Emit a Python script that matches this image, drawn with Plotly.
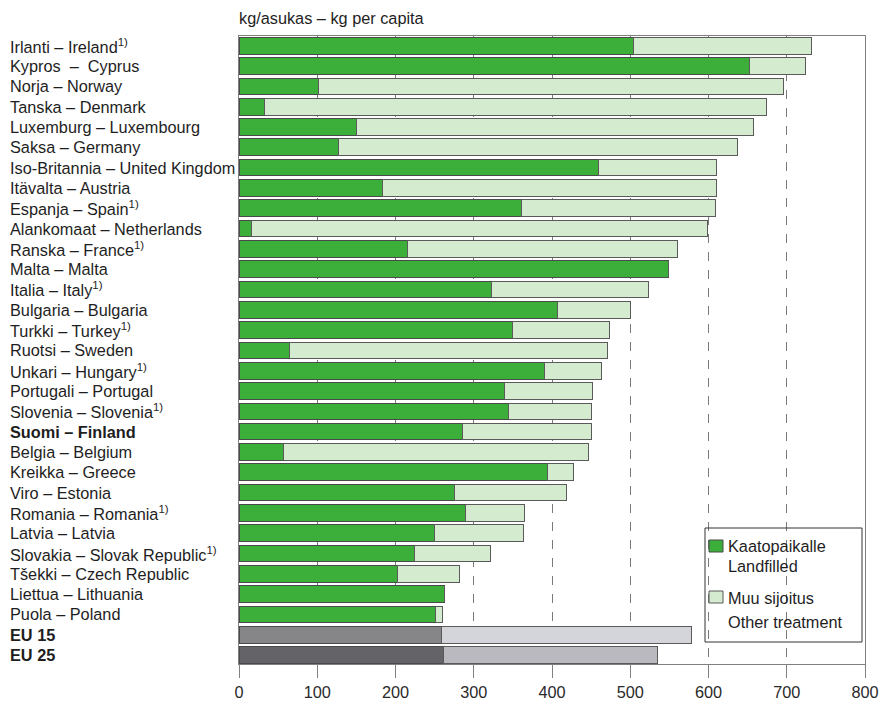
import plotly.graph_objects as go

# ---- data ----
labels = [
    "Irlanti – Ireland<sup>1)</sup>",
    "Kypros\u00a0 –\u00a0 Cyprus",
    "Norja – Norway",
    "Tanska – Denmark",
    "Luxemburg – Luxembourg",
    "Saksa – Germany",
    "Iso-Britannia – United Kingdom",
    "Itävalta – Austria",
    "Espanja – Spain<sup>1)</sup>",
    "Alankomaat – Netherlands",
    "Ranska – France<sup>1)</sup>",
    "Malta – Malta",
    "Italia – Italy<sup>1)</sup>",
    "Bulgaria – Bulgaria",
    "Turkki – Turkey<sup>1)</sup>",
    "Ruotsi – Sweden",
    "Unkari – Hungary<sup>1)</sup>",
    "Portugali – Portugal",
    "Slovenia – Slovenia<sup>1)</sup>",
    "<b>Suomi – Finland</b>",
    "Belgia – Belgium",
    "Kreikka – Greece",
    "Viro – Estonia",
    "Romania – Romania<sup>1)</sup>",
    "Latvia – Latvia",
    "Slovakia – Slovak Republic<sup>1)</sup>",
    "Tšekki – Czech Republic",
    "Liettua – Lithuania",
    "Puola – Poland",
    "<b>EU 15</b>",
    "<b>EU 25</b>",
]
landfilled = [504, 652, 101, 33, 150, 127, 460, 183, 361, 16, 215, 549, 323, 407,
              349, 65, 390, 339, 345, 286, 57, 394, 276, 290, 250, 224, 203, 263,
              251, 259, 261]
other = [228, 72, 595, 641, 507, 510, 150, 427, 248, 583, 346, 0, 200, 93,
         125, 406, 73, 113, 106, 164, 389, 34, 143, 75, 113, 97, 79, 0,
         9, 319, 274]
x_ticks = [0, 100, 200, 300, 400, 500, 600, 700, 800]

# ---- styling ----
GREEN = "#3cae3a"
LIGHT = "#d4ebcf"
dark_cols = []
light_cols = []
for lab in labels:
    if "EU 15" in lab:
        dark_cols.append("#868688"); light_cols.append("#d3d5db")
    elif "EU 25" in lab:
        dark_cols.append("#646468"); light_cols.append("#b9b9bf")
    else:
        dark_cols.append(GREEN); light_cols.append(LIGHT)

cats = list(range(len(labels)))
FONT = "Liberation Sans, Arial, sans-serif"
FS = 16.3
TXT = "#1e1e1e"

fig = go.Figure()
fig.add_trace(go.Bar(
    y=cats, x=landfilled, orientation="h", name="Kaatopaikalle Landfilled",
    marker=dict(color=dark_cols, line=dict(color="#4a4a4a", width=1)),
    showlegend=False,
))
fig.add_trace(go.Bar(
    y=cats, x=other, orientation="h", name="Muu sijoitus Other treatment",
    marker=dict(color=light_cols, line=dict(color="#5a5a5a", width=1)),
    showlegend=False,
))

W, H = 882, 701
L_px, R_px, T_px, B_px = 239, 865, 36, 664   # plot area in window pixels
pw, ph = R_px - L_px, B_px - T_px

def px(xp):
    return (xp - L_px) / pw

def py(yp):
    return (B_px - yp) / ph

annotations = []
for i, lab in enumerate(labels):
    annotations.append(dict(
        x=px(8), xref="paper", y=i, yref="y", text=lab, showarrow=False,
        xanchor="left", yanchor="middle", font=dict(size=FS, color=TXT, family=FONT),
    ))
annotations.append(dict(
    x=px(237), xref="paper", y=py(18), yref="paper", text="kg/asukas – kg per capita",
    showarrow=False, xanchor="left", yanchor="middle",
    font=dict(size=FS, color=TXT, family=FONT),
))
for txt, yy in [("Kaatopaikalle", 546), ("Landfilled", 566),
                ("Muu sijoitus", 598), ("Other treatment", 622)]:
    annotations.append(dict(
        x=px(726), xref="paper", y=py(yy), yref="paper", text=txt, showarrow=False,
        xanchor="left", yanchor="middle", font=dict(size=FS, color=TXT, family=FONT),
    ))

shapes = [
    dict(type="rect", xref="paper", yref="paper", x0=px(705), x1=px(862),
         y0=py(642), y1=py(528), line=dict(color="#333", width=1), fillcolor="rgba(0,0,0,0)"),
    dict(type="rect", xref="paper", yref="paper", x0=px(709), x1=px(723),
         y0=py(552), y1=py(540), line=dict(color="#4a4a4a", width=1), fillcolor=GREEN),
    dict(type="rect", xref="paper", yref="paper", x0=px(709), x1=px(723),
         y0=py(603), y1=py(591), line=dict(color="#5a5a5a", width=1), fillcolor=LIGHT),
]

fig.update_layout(
    width=W, height=H, barmode="stack", bargap=0.18,
    margin=dict(l=L_px, r=W - R_px, t=T_px, b=H - B_px, pad=0),
    paper_bgcolor="white", plot_bgcolor="white",
    font=dict(family=FONT, size=FS, color=TXT),
    annotations=annotations, shapes=shapes,
    xaxis=dict(range=[0, 800], tickvals=x_ticks, ticktext=[str(v) for v in x_ticks],
               showgrid=True, gridcolor="#7a7a7a", gridwidth=1, griddash="dash",
               showline=True, linecolor="#808080", linewidth=1, mirror=True,
               ticks="outside", ticklen=13, tickcolor="#808080", zeroline=False,
               tickfont=dict(size=FS, color="#2a2a2a", family=FONT), automargin=False,
               layer="below traces"),
    yaxis=dict(range=[len(labels) - 1 + 0.44, -0.48], showticklabels=False, showgrid=False,
               showline=True, linecolor="#808080", linewidth=1, mirror=True,
               zeroline=False, ticks="", automargin=False),
)

fig.write_html(
    "out.html",
    config={"displayModeBar": False},
    post_script="document.body.style.margin='0px';document.body.style.overflow='hidden';",
)
